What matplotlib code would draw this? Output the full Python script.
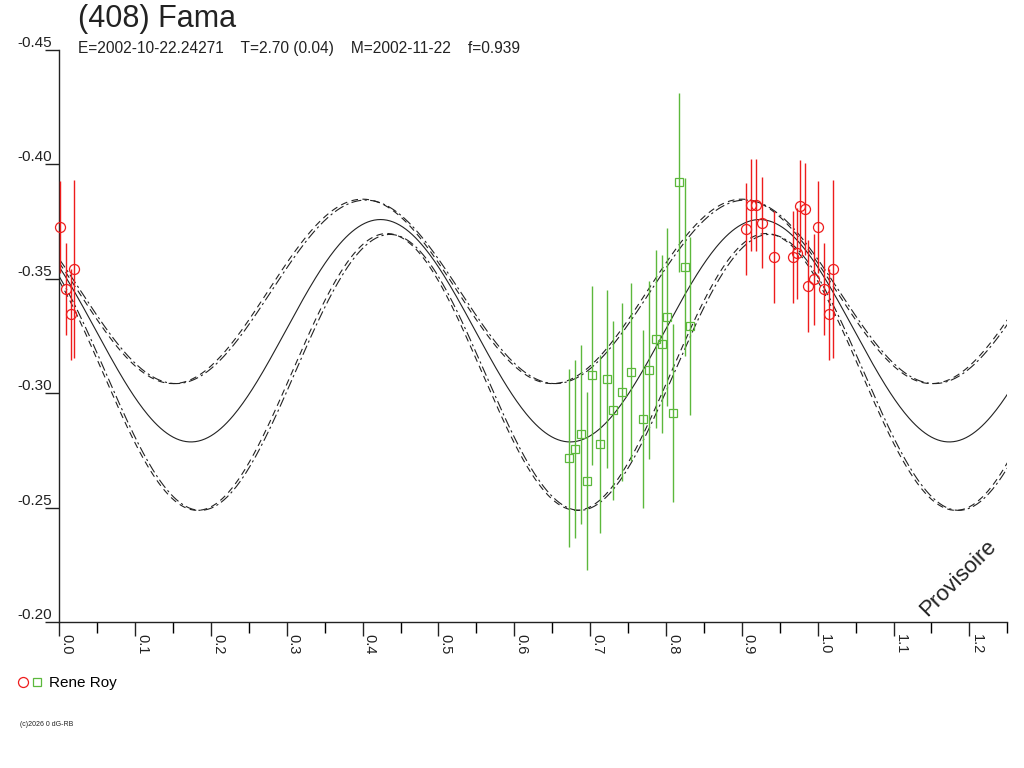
import matplotlib
matplotlib.use('Agg')
import matplotlib.pyplot as plt
import numpy as np
from matplotlib.legend_handler import HandlerTuple

plt.rcParams['font.family'] = ['Liberation Sans', 'DejaVu Sans']

# observations (phase, reduced mag, error) - red circles
red_phase = [0.001, 0.0198, 0.0088, 0.0154,
             0.906, 0.9125, 0.9186, 0.926, 0.942, 0.9674, 0.9727,
             0.977, 0.9833, 0.995, 0.9876]
red_mag = [-0.3726, -0.3543, -0.3456, -0.3344,
           -0.3718, -0.3822, -0.3822, -0.3746, -0.3596, -0.3596, -0.3611,
           -0.3819, -0.3805, -0.3497, -0.3469]
red_err = [0.020, 0.039, 0.020, 0.020,
           0.020, 0.020, 0.020, 0.020, 0.020, 0.020, 0.020,
           0.020, 0.020, 0.020, 0.020]

# green squares
green_phase = [0.672, 0.680, 0.6875, 0.6954, 0.7024, 0.7126, 0.7222, 0.7305,
               0.7416, 0.7538, 0.770, 0.7776, 0.7872, 0.7947, 0.8017, 0.8092,
               0.8171, 0.825, 0.8312]
green_mag = [-0.2717, -0.2756, -0.282, -0.2616, -0.3078, -0.2778, -0.3062, -0.2925,
             -0.3005, -0.3093, -0.2887, -0.3102, -0.3237, -0.3215, -0.3333, -0.2914,
             -0.3921, -0.3552, -0.3294]
green_err = [0.039] * 19

# fit curves: mean, amplitude, phase of maximum
fit_mean = {'mid': -0.3273, 'up1': -0.3445, 'up2': -0.3443, 'lo1': -0.3093, 'lo2': -0.3091}
fit_amp = {'mid': 0.0486, 'up1': 0.0403, 'up2': 0.0401, 'lo1': 0.0605, 'lo2': 0.0603}
fit_pmax = {'mid': 0.4235, 'up1': 0.400, 'up2': 0.404, 'lo1': 0.432, 'lo2': 0.436}

title = "(408) Fama"
subtitle = "E=2002-10-22.24271    T=2.70 (0.04)    M=2002-11-22    f=0.939"
observer = "Rene Roy"

fig = plt.figure(figsize=(10.24, 7.68), dpi=100)
ax = fig.add_axes([59.3/1024, 1-622/768, 948/1024, 572/768])

ph = np.linspace(0, 1.25, 600)
styles = {'mid': '-', 'up1': (0, (6, 4)), 'up2': (0, (9, 3, 2, 3)),
          'lo1': (0, (6, 4)), 'lo2': (0, (9, 3, 2, 3))}
for k in fit_mean:
    y = fit_mean[k] - fit_amp[k]*np.cos(4*np.pi*(ph - fit_pmax[k]))
    ax.plot(ph, y, color='#222222', lw=0.8, linestyle=styles[k])

red = '#ee1c1c'
green = '#5cb83c'
for shift in [0, 1]:
    rp = np.array(red_phase) + shift
    m = (rp >= 0) & (rp <= 1.25)
    ax.errorbar(rp[m], np.array(red_mag)[m], yerr=np.array(red_err)[m], fmt='o',
                mfc='none', mec=red, ecolor=red, ms=7.2, mew=0.9, elinewidth=1,
                capsize=0, zorder=3, clip_on=False)
    gp = np.array(green_phase) + shift
    m = (gp >= 0) & (gp <= 1.25)
    ax.errorbar(gp[m], np.array(green_mag)[m], yerr=np.array(green_err)[m], fmt='s',
                mfc='none', mec=green, ecolor=green, ms=5.8, mew=0.9, elinewidth=1,
                capsize=0, zorder=3)

ax.set_xlim(0, 1.25)
ax.set_ylim(-0.20, -0.45)
ax.set_xticks(np.arange(0, 1.21, 0.1))
ax.set_xticks(np.arange(0.05, 1.26, 0.1), minor=True)
ax.set_xticklabels(['%.1f' % v for v in np.arange(0, 1.21, 0.1)])
ax.set_yticks([-0.45, -0.40, -0.35, -0.30, -0.25, -0.20])
ax.set_yticklabels(['-0.45', '-0.40', '-0.35', '-0.30', '-0.25', '-0.20'])
for s in ['top', 'right']:
    ax.spines[s].set_visible(False)
for s in ['left', 'bottom']:
    ax.spines[s].set_linewidth(1)
    ax.spines[s].set_color('#222222')
ax.tick_params(axis='x', which='major', length=10, width=1, direction='out',
               labelsize=10.5, pad=-1, colors='#222222')
ax.tick_params(axis='x', which='minor', length=8, width=1, direction='out')
ax.tick_params(axis='y', length=10, width=1, direction='out', labelsize=11, pad=-5,
               colors='#222222')
for lab in ax.get_xticklabels():
    lab.set_rotation(-90)
    lab.set_ha('left')
    lab.set_va('top')
for lab in ax.get_yticklabels():
    lab.set_va('bottom')

fig.text(78/1024, 1-19/768, title, fontsize=22, va='center', ha='left', color='#222222')
fig.text(78/1024, 1-48/768, subtitle, fontsize=11.2, va='center', ha='left', color='#222222')
fig.text(958/1024, 1-578/768, "Provisoire", rotation=45, fontsize=16,
         ha='center', va='center', color='#222222')

h1, = ax.plot([], [], 'o', mfc='none', mec=red, ms=7.2, mew=0.9)
h2, = ax.plot([], [], 's', mfc='none', mec=green, ms=5.8, mew=0.9)
fig.legend(handles=[(h1, h2)], labels=[observer],
           handler_map={tuple: HandlerTuple(ndivide=None, pad=0.2)},
           loc='center left', bbox_to_anchor=(12/1024, 1-683/768), frameon=False,
           fontsize=11, handlelength=1.6, handletextpad=0.4, borderaxespad=0)
fig.text(20/1024, 1-725/768, "(c)2026 0 dG-RB", fontsize=5, va='center', color='#222222')

fig.savefig('out.png', dpi=100)
